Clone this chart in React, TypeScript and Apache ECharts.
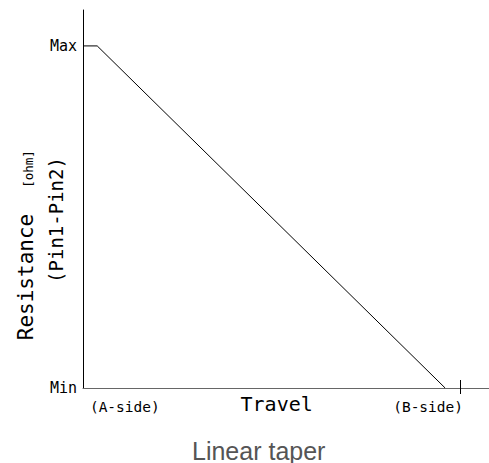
import React, { useEffect, useRef } from "react";
import * as echarts from "echarts";

// Data (axis units: travel 0-100, resistance 0-100)
const travel = [0, 3.5, 89.2];
const resistance = [90.5, 90.5, 0];

const yTickValues = [0, 90.5];
const yTickLabels = ["Min", "Max"];

const xLabelValues = [10.3, 47.7, 85];
const xLabels = ["(A-side)", "Travel", "(B-side)"];
const xTickValues = [92.9];

const titleText = "Linear taper";
const yNameMain = "Resistance";
const yNameUnit = "[ohm]";
const yNameSub = "(Pin1-Pin2)";

const MONO = "DejaVu Sans Mono";

export default function App() {
  const ref = useRef<HTMLDivElement>(null);
  useEffect(() => {
    if (!ref.current) return;
    const chart = echarts.init(ref.current, undefined, { renderer: "svg" });
    const data = travel.map((t, i) => [t, resistance[i]]);
    chart.setOption({
      animation: false,
      backgroundColor: "#fff",
      title: {
        text: titleText,
        left: 192,
        top: 438,
        padding: 0,
        textStyle: {
          fontFamily: "Liberation Sans",
          fontSize: 25,
          fontWeight: "normal",
          color: "#555",
        },
      },
      grid: { left: 83, right: 0, top: 10, bottom: 75 },
      xAxis: [
        {
          type: "value",
          min: 0,
          max: 100,
          position: "bottom",
          splitLine: { show: false },
          axisLine: { show: true, lineStyle: { color: "#666", width: 1 } },
          axisTick: {
            show: true,
            customValues: xTickValues,
            inside: false,
            length: 6,
            lineStyle: { color: "#000", width: 1 },
          },
          axisLabel: {
            customValues: xLabelValues,
            margin: 19,
            verticalAlign: "middle",
            color: "#000",
            fontFamily: MONO,
            fontSize: 14.5,
            formatter: (v: number) => {
              const i = xLabelValues.indexOf(v);
              const s = i >= 0 ? xLabels[i] : "";
              return s === "Travel" ? "{big|" + s + "}" : s;
            },
            rich: {
              big: {
                fontFamily: MONO,
                fontSize: 20,
                color: "#000",
                padding: [0, 0, 6, 0],
              },
            },
          },
        },
        {
          type: "value",
          min: 0,
          max: 100,
          position: "bottom",
          splitLine: { show: false },
          axisLine: { show: false },
          axisTick: {
            show: true,
            customValues: xTickValues,
            inside: true,
            length: 8,
            lineStyle: { color: "#000", width: 1 },
          },
          axisLabel: { show: false },
        },
      ],
      yAxis: {
        type: "value",
        min: 0,
        max: 100,
        splitLine: { show: false },
        axisLine: { show: true, lineStyle: { color: "#000", width: 1 } },
        axisTick: { show: false },
        axisLabel: {
          customValues: yTickValues,
          margin: 6,
          color: "#000",
          fontFamily: MONO,
          fontSize: 15,
          formatter: (v: number) => {
            const i = yTickValues.indexOf(v);
            return i >= 0 ? yTickLabels[i] : "";
          },
        },
      },
      graphic: [
        {
          type: "text",
          x: 26,
          y: 277,
          rotation: Math.PI / 2,
          style: {
            text: yNameMain,
            fontFamily: MONO,
            fontSize: 21,
            fill: "#000",
            align: "center",
            verticalAlign: "middle",
          },
        },
        {
          type: "text",
          x: 28,
          y: 169,
          rotation: Math.PI / 2,
          style: {
            text: yNameUnit,
            fontFamily: MONO,
            fontSize: 12.5,
            fill: "#000",
            align: "center",
            verticalAlign: "middle",
          },
        },
        {
          type: "text",
          x: 56,
          y: 220,
          rotation: Math.PI / 2,
          style: {
            text: yNameSub,
            fontFamily: MONO,
            fontSize: 19,
            fill: "#000",
            align: "center",
            verticalAlign: "middle",
          },
        },
      ],
      series: [
        {
          type: "line",
          data,
          symbol: "none",
          lineStyle: { color: "#000", width: 1 },
        },
      ],
    });
    return () => chart.dispose();
  }, []);
  return (
    <div
      ref={ref}
      style={{ position: "fixed", left: 0, top: 0, width: 489, height: 463 }}
    />
  );
}
